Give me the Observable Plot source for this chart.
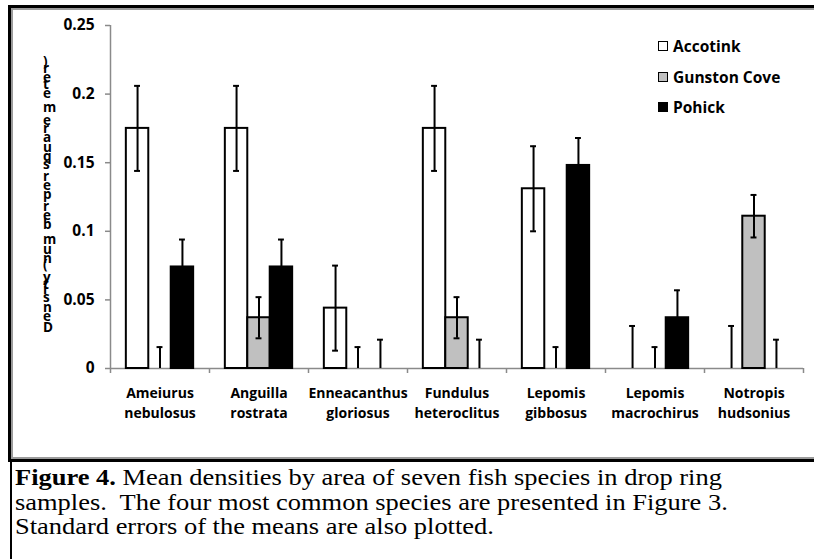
<!DOCTYPE html>
<html>
<head>
<meta charset="utf-8">
<script src="https://cdn.jsdelivr.net/npm/d3@7"></script>
<script src="https://cdn.jsdelivr.net/npm/@observablehq/plot@0.6"></script>
<style>
  html, body { margin: 0; padding: 0; background: #fff; width: 814px; height: 559px; overflow: hidden; position: relative; }
  #frame { position: absolute; left: 8px; top: 5px; width: 900px; height: 457px; box-sizing: border-box; border: 3px solid #000; }
  #frame-inner { position: absolute; left: 0; top: 0; right: 0; bottom: 0; border: 2px solid #9b9b9b; }
  #chart { position: absolute; left: 0; top: 0; }
  #legend { position: absolute; left: 658px; top: 31px; font-family: "Open Sans", sans-serif; font-weight: bold; font-size: 15.5px; color: #000; }
  #legend .item { display: flex; align-items: center; height: 30.5px; white-space: pre; }
  #legend .sw { width: 8px; height: 8px; border: 1px solid #000; margin-right: 5px; }
  #caption { position: absolute; left: 10px; top: 462px; width: 790px; height: 97px; border-left: 2px solid #000; }
  #caption-text { position: absolute; left: 3px; top: 4px; transform: scaleX(1.15); transform-origin: 0 0;
             font-family: "Liberation Serif", "Times New Roman", serif; font-size: 23px; line-height: 24.5px; white-space: pre; color: #000; }
  #caption-text div { height: 24.5px; }
</style>
</head>
<body>
<div id="frame"><div id="frame-inner"></div></div>
<div id="chart"></div>
<div id="legend"></div>
<div id="caption"><div id="caption-text"></div></div>
<script>
// ---- data ----
const speciesLabels = ["Ameiurus\nnebulosus", "Anguilla\nrostrata", "Enneacanthus\ngloriosus", "Fundulus\nheteroclitus", "Lepomis\ngibbosus", "Lepomis\nmacrochirus", "Notropis\nhudsonius"];
const sites = ["Accotink", "Gunston Cove", "Pohick"];
const accotinkMean = [0.175, 0.175, 0.044, 0.175, 0.131, 0, 0];
const gunstonMean  = [0, 0.037, 0, 0.037, 0, 0, 0.111];
const pohickMean   = [0.074, 0.074, 0, 0, 0.148, 0.037, 0];
const accotinkSE = [0.031, 0.031, 0.031, 0.031, 0.031, 0.031, 0.031];
const gunstonSE  = [0.0156, 0.015, 0.0156, 0.015, 0.0156, 0.0156, 0.0155];
const pohickSE   = [0.02, 0.02, 0.021, 0.021, 0.02, 0.02, 0.021];
const yTicks = [0, 0.05, 0.1, 0.15, 0.2, 0.25];
const yTickLabels = ["0", "0.05", "0.1", "0.15", "0.2", "0.25"];
const siteFills = ["#ffffff", "#c0c0c0", "#000000"];
const yTitle = "Density (number per square meter)";
const captionBold = "Figure 4.";
const captionLines = [" Mean densities by area of seven fish species in drop ring",
                      "samples.  The four most common species are presented in Figure 3.",
                      "Standard errors of the means are also plotted."];

// ---- layout styling (in category units) ----
const groupOffset = 0.16, barW = 0.68 / 3, capHalf = 0.03;

const means = [accotinkMean, gunstonMean, pohickMean];
const ses = [accotinkSE, gunstonSE, pohickSE];
const rows = [];
speciesLabels.forEach((sp, i) => sites.forEach((site, j) => rows.push({i, j, species: sp, site, value: means[j][i], se: ses[j][i]})));
const left = d => d.i + groupOffset + d.j * barW;
const mid = d => left(d) + barW / 2;
const lo = d => Math.max(0, d.value - d.se);
const hi = d => d.value + d.se;
const nonzero = rows.filter(d => d.value > 0);
const labelRows = speciesLabels.map((s, i) => ({i, s}));

const chart = Plot.plot({
  width: 814, height: 459,
  marginLeft: 110, marginRight: 11, marginTop: 25, marginBottom: 91,
  x: {domain: [0, speciesLabels.length], axis: null},
  y: {domain: [0, 0.25], axis: null},
  color: {domain: sites, range: siteFills},
  style: {background: "transparent", overflow: "visible", fontFamily: "'Open Sans', sans-serif", fontWeight: "bold", color: "#000"},
  marks: [
    Plot.ruleY([0], {stroke: "#8a8a8a", strokeWidth: 1.5}),
    Plot.ruleX([0], {y1: 0, y2: 0.25, stroke: "#8a8a8a", strokeWidth: 1.5}),
    Plot.axisY({ticks: yTicks, tickSize: 5, tickPadding: 11, tickFormat: v => yTickLabels[yTicks.indexOf(v)], stroke: "#8a8a8a", strokeWidth: 1.5, fontSize: 15.5, label: null}),
    Plot.axisX({ticks: d3.range(speciesLabels.length + 1), tickSize: 5, tickFormat: () => "", stroke: "#8a8a8a", strokeWidth: 1.5, label: null}),
    Plot.text(labelRows, {x: d => d.i + 0.5, y: () => 0, text: "s", lineAnchor: "top", dy: 15, lineHeight: 1.45, fontSize: 14, fill: "#000"}),
    Plot.rectY(nonzero, {x1: left, x2: d => left(d) + barW, y1: 0, y2: "value", fill: "site", stroke: "#000", strokeWidth: 2}),
    Plot.ruleX(rows, {x: mid, y1: lo, y2: hi, stroke: "#000", strokeWidth: 2}),
    Plot.ruleY(rows, {y: hi, x1: d => mid(d) - capHalf, x2: d => mid(d) + capHalf, stroke: "#000", strokeWidth: 2}),
    Plot.ruleY(nonzero, {y: lo, x1: d => mid(d) - capHalf, x2: d => mid(d) + capHalf, stroke: "#000", strokeWidth: 2})
  ]
});
document.getElementById("chart").appendChild(chart);

// y-axis title: upright glyphs stacked bottom-to-top
const t = d3.select(chart).append("text")
  .attr("font-family", "'Open Sans', sans-serif").attr("font-weight", "bold").attr("font-size", 13.5)
  .attr("fill", "#000").attr("text-anchor", "middle")
  .attr("transform", "translate(43,196) rotate(-90)").attr("rotate", 90)
  .text(yTitle);
const natural = t.node().getComputedTextLength();
t.attr("letter-spacing", ((272 - natural) / yTitle.length).toFixed(2));

// legend
const legend = d3.select("#legend");
sites.forEach((s, j) => {
  const it = legend.append("div").attr("class", "item");
  it.append("div").attr("class", "sw").style("background", siteFills[j]);
  it.append("span").text(s);
});

// caption
const cap = d3.select("#caption-text");
const first = cap.append("div");
first.append("b").text(captionBold);
first.append("span").text(captionLines[0]);
captionLines.slice(1).forEach(line => cap.append("div").text(line));
</script>
</body>
</html>
